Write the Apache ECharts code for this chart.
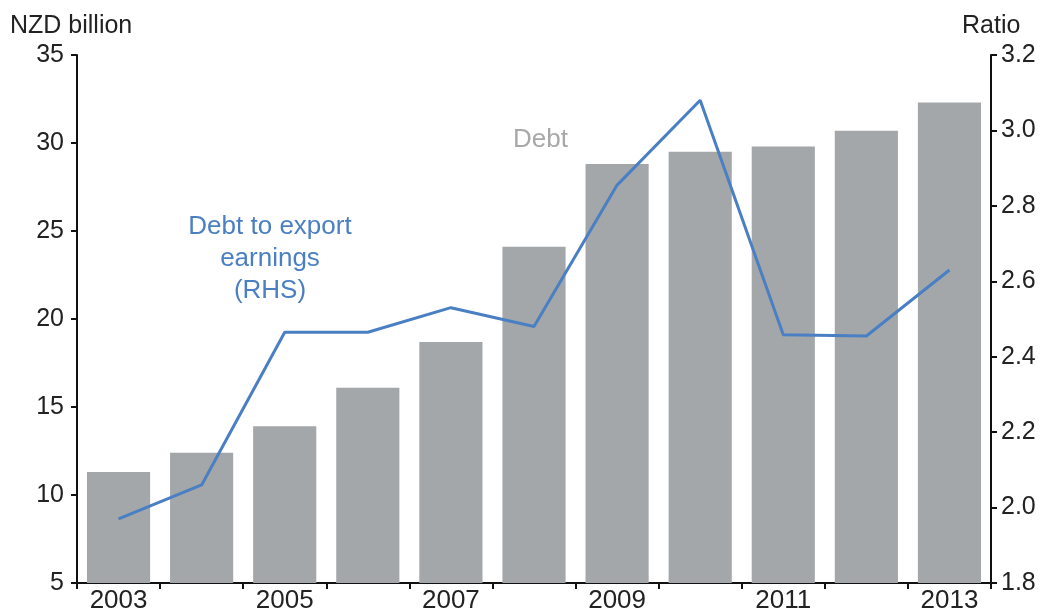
<!DOCTYPE html>
<html><head><meta charset="utf-8">
<script src="https://cdn.jsdelivr.net/npm/echarts@6/dist/echarts.min.js"></script>
<style>html,body{margin:0;padding:0;background:#fff}#c{width:1045px;height:615px}</style>
</head><body><div id="c"></div>
<script>
const years = ['2003','2004','2005','2006','2007','2008','2009','2010','2011','2012','2013'];
const debt = [11.3, 12.4, 13.9, 16.1, 18.7, 24.1, 28.8, 29.5, 29.8, 30.7, 32.3];
const ratio = [1.97, 2.06, 2.465, 2.465, 2.53, 2.48, 2.855, 3.08, 2.458, 2.455, 2.63];
const leftTicks = [5, 35, 5];   // min, max, step
const rightTicks = [1.8, 3.2, 0.2];

const font = 'Liberation Sans, Arial, sans-serif';
const chart = echarts.init(document.getElementById('c'));
chart.setOption({
  animation: false,
  grid: {left: 77, right: 54, top: 55, bottom: 32},
  xAxis: {
    type: 'category', data: years, boundaryGap: true,
    axisLine: {lineStyle: {color: '#111', width: 2}},
    axisTick: {show: true, interval: 0, length: 6, lineStyle: {color: '#111', width: 2}},
    axisLabel: {interval: 1, color: '#222', fontSize: 26, fontFamily: font, margin: 5}
  },
  yAxis: [{
    type: 'value', min: leftTicks[0], max: leftTicks[1], interval: leftTicks[2],
    splitLine: {show: false},
    axisLine: {show: true, lineStyle: {color: '#111', width: 2}},
    axisTick: {show: true, length: 6, lineStyle: {color: '#111', width: 2}},
    axisLabel: {color: '#222', fontSize: 25, fontFamily: font, margin: 13}
  }, {
    type: 'value', min: rightTicks[0], max: rightTicks[1], interval: rightTicks[2], position: 'right',
    splitLine: {show: false},
    axisLine: {show: true, lineStyle: {color: '#111', width: 2}},
    axisTick: {show: true, length: 6, lineStyle: {color: '#111', width: 2}},
    axisLabel: {color: '#222', fontSize: 25, fontFamily: font, margin: 10,
      formatter: v => v.toFixed(1)}
  }],
  series: [{
    type: 'bar', data: debt, yAxisIndex: 0, barCategoryGap: '24%',
    itemStyle: {color: '#a3a7aa'}
  }, {
    type: 'line', data: ratio, yAxisIndex: 1, symbol: 'none',
    lineStyle: {color: '#4a7fc3', width: 3}
  }],
  graphic: [
    {type: 'text', left: 10, top: 14, style: {text: 'NZD billion', fontSize: 25, fontFamily: font, fill: '#222'}},
    {type: 'text', left: 962, top: 14, style: {text: 'Ratio', fontSize: 25, fontFamily: font, fill: '#222'}},
    {type: 'text', left: 513, top: 127, style: {text: 'Debt', fontSize: 26, fontFamily: font, fill: '#a8a8a8'}},
    {type: 'text', x: 270, y: 211, style: {text: 'Debt to export\nearnings\n(RHS)', fontSize: 26, lineHeight: 32,
      fontFamily: font, fill: '#4a7fc3', align: 'center'}}
  ]
});
</script></body></html>
